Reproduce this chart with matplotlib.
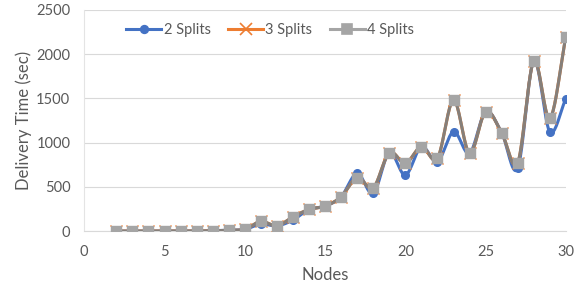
import matplotlib.pyplot as plt
import numpy as np

plt.rcParams['font.family'] = ['Lato', 'DejaVu Sans']

nodes = list(range(2, 31))
splits2 = [0, 0, 0, 0, 0, 0, 5, 10, 20, 80, 60, 125, 245, 283, 388, 652, 426, 886,
           633, 954, 784, 1123, 879, 1350, 1112, 709, 1923, 1123, 1497]
splits3 = [0, 0, 0, 0, 0, 0, 5, 10, 20, 110, 60, 162, 245, 283, 388, 603, 490, 886,
           766, 954, 822, 1482, 879, 1350, 1112, 773, 1923, 1274, 2198]
splits4 = [0, 0, 0, 0, 0, 0, 5, 10, 20, 110, 60, 162, 245, 283, 388, 603, 490, 886,
           766, 954, 822, 1482, 879, 1350, 1112, 773, 1923, 1274, 2198]


def smooth(x, y, n=20):
    # catmull-rom like excel "smoothed line"
    x = np.asarray(x, float)
    y = np.asarray(y, float)
    px = np.concatenate([[2 * x[0] - x[1]], x, [2 * x[-1] - x[-2]]])
    py = np.concatenate([[2 * y[0] - y[1]], y, [2 * y[-1] - y[-2]]])
    xs, ys = [], []
    t = np.linspace(0, 1, n, endpoint=False)
    for i in range(1, len(px) - 2):
        for p, out in ((px, xs), (py, ys)):
            p0, p1, p2, p3 = p[i - 1], p[i], p[i + 1], p[i + 2]
            out.extend(0.5 * (2 * p1 + (-p0 + p2) * t + (2 * p0 - 5 * p1 + 4 * p2 - p3) * t ** 2
                              + (-p0 + 3 * p1 - 3 * p2 + p3) * t ** 3))
    xs.append(x[-1])
    ys.append(y[-1])
    return xs, ys


fig = plt.figure(figsize=(5.81, 2.90), dpi=100)
ax = fig.add_axes([0.145, 0.203, 0.829, 0.763])

series = [
    ("2 Splits", splits2, '#4472C4', '#4472C4', 'o', 5.5),
    ("3 Splits", splits3, '#ED7D31', '#ED7D31', 'x', 8.5),
    ("4 Splits", splits4, '#857F7A', '#A5A5A5', 's', 6.5),
]
for name, vals, lc, mc, m, ms in series:
    sx, sy = smooth(nodes, vals)
    ax.plot(sx, sy, color=lc, lw=2.2, zorder=3)
    ax.plot(nodes, vals, ls='none', marker=m, color=mc, ms=ms, mew=1.0, zorder=4)
    ax.plot([], [], color=lc if m != 's' else '#A5A5A5', lw=2.2, marker=m, mfc=mc, mec=mc,
            ms=ms, mew=1.2, label=name)

ax.set_xlim(0, 30)
ax.set_ylim(0, 2500)
ax.set_xticks(range(0, 31, 5))
ax.set_yticks(range(0, 2501, 500))
ax.yaxis.grid(True, color='#D9D9D9', lw=0.8)
ax.set_axisbelow(True)
for s in ['top', 'right']:
    ax.spines[s].set_visible(False)
ax.spines['bottom'].set_color('#D9D9D9')
ax.spines['left'].set_color('#E4E4E4')
ax.tick_params(length=0, colors='#595959', labelsize=10.5, pad=10)
ax.set_xlabel("Nodes", color='#595959', fontsize=12, labelpad=6)
ax.set_ylabel("Delivery Time (sec)", color='#595959', fontsize=12, labelpad=3)

leg = ax.legend(loc='upper center', bbox_to_anchor=(0.386, 1.0), ncol=3, frameon=False,
                fontsize=10.5, handlelength=2.4, handletextpad=0.15, columnspacing=1.2)
for t in leg.get_texts():
    t.set_color('#595959')

fig.savefig("out.png", dpi=100)
